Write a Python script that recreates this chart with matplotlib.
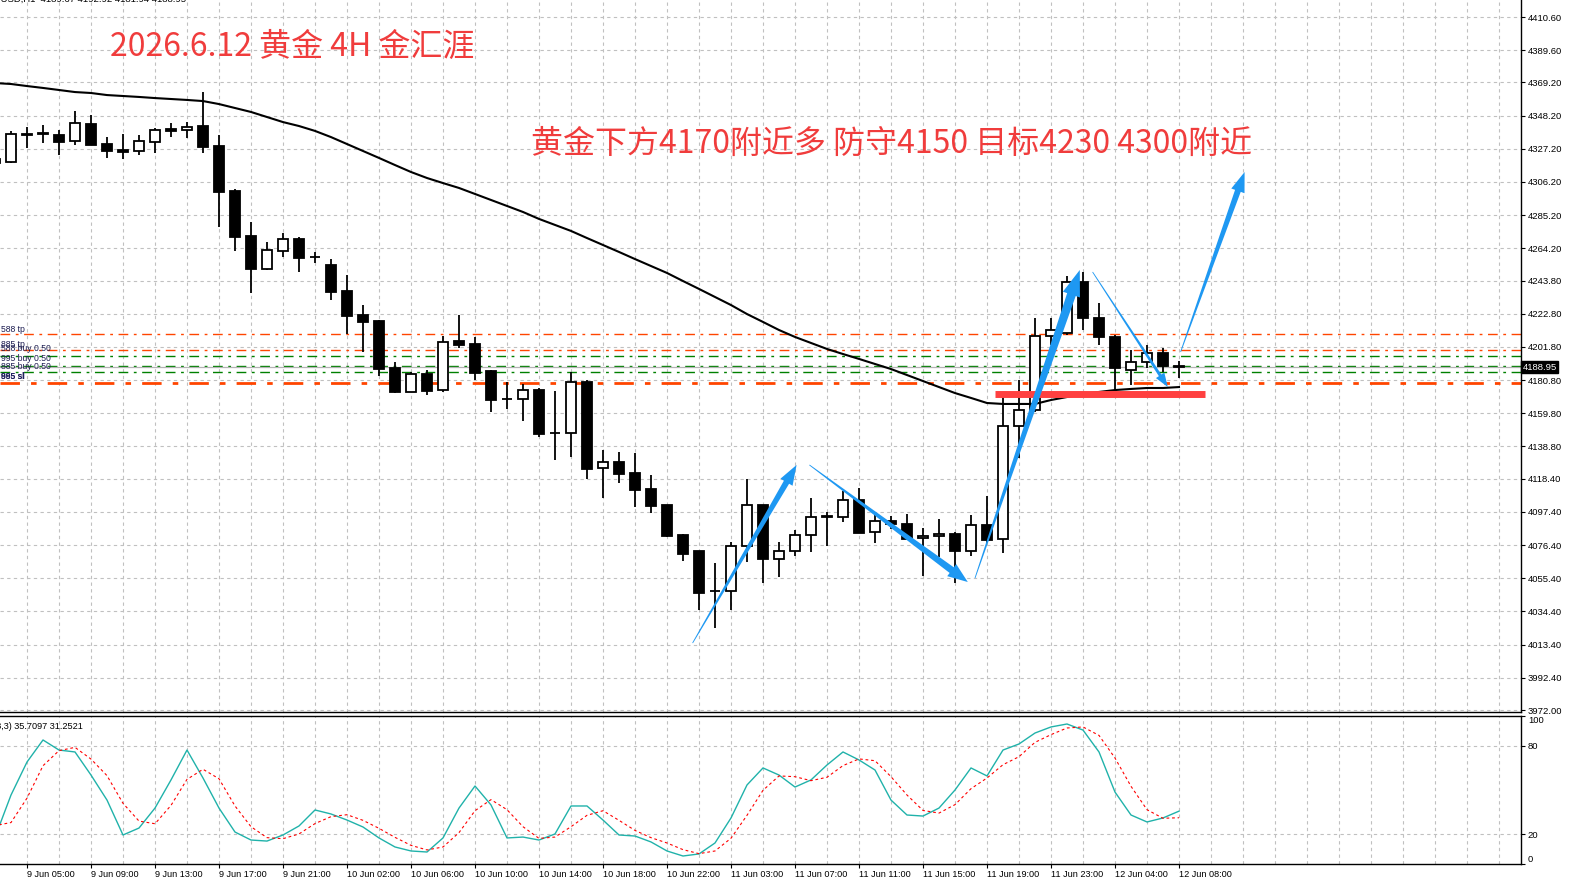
# XAUUSD H1 蜡烛图 + MA + 随机指标 (MT4 风格)
import numpy as np
import matplotlib
matplotlib.use('Agg')
import matplotlib.pyplot as plt
import matplotlib.transforms as mtransforms
from matplotlib.patches import Polygon

W, H = 1569, 877

# ---- 数据 ----
opens = [4321.0, 4318.8, 4336.6, 4336.6, 4335.9, 4332.1, 4342.9, 4330.2, 4326.4, 4325.8,
         4331.5, 4339.7, 4339.1, 4341.6, 4329.0, 4300.5, 4272.0, 4251.1, 4262.5, 4270.1,
         4258.7, 4253.6, 4237.2, 4222.0, 4218.2, 4188.5, 4173.3, 4184.7, 4174.5, 4205.5,
         4203.6, 4186.6, 4168.8, 4168.8, 4174.5, 4147.3, 4147.3, 4179.6, 4125.2, 4129.0,
         4122.0, 4111.9, 4101.7, 4082.8, 4072.6, 4047.3, 4047.3, 4075.8, 4101.7, 4067.6,
         4072.6, 4082.8, 4094.2, 4094.2, 4104.9, 4084.7, 4091.6, 4089.7, 4080.9, 4082.1,
         4083.4, 4072.6, 4089.1, 4080.2, 4151.7, 4161.9, 4208.7, 4210.6, 4242.9, 4220.1,
         4208.1, 4187.2, 4192.3, 4197.9, 4189.67]
highs = [4324.0, 4338.5, 4341.0, 4342.2, 4339.1, 4351.1, 4348.6, 4334.6, 4336.6, 4335.9,
         4340.3, 4343.5, 4344.1, 4363.1, 4335.9, 4301.7, 4280.9, 4268.2, 4273.9, 4271.4,
         4261.9, 4257.4, 4247.3, 4228.3, 4218.8, 4192.3, 4185.9, 4187.2, 4208.7, 4222.0,
         4208.1, 4187.2, 4179.6, 4178.3, 4175.8, 4173.9, 4185.9, 4180.9, 4136.6, 4135.3,
         4134.7, 4120.7, 4101.7, 4083.4, 4072.6, 4065.0, 4078.3, 4118.2, 4101.7, 4078.3,
         4085.9, 4106.2, 4097.3, 4110.6, 4112.5, 4095.4, 4094.8, 4096.1, 4087.2, 4092.9,
         4084.7, 4095.4, 4107.4, 4172.6, 4180.9, 4220.1, 4220.1, 4246.7, 4249.2, 4229.6,
         4209.3, 4199.8, 4203.0, 4201.1, 4192.92]
lows = [4316.0, 4318.2, 4327.7, 4330.9, 4323.3, 4329.6, 4329.6, 4321.4, 4320.7, 4323.3,
        4324.5, 4334.6, 4334.0, 4324.5, 4277.7, 4262.5, 4235.9, 4250.5, 4258.7, 4249.2,
        4254.9, 4231.5, 4210.0, 4198.6, 4183.4, 4172.6, 4173.3, 4171.4, 4173.3, 4201.1,
        4180.9, 4160.6, 4162.5, 4154.9, 4144.8, 4130.2, 4132.1, 4118.2, 4106.2, 4115.7,
        4100.5, 4096.7, 4081.5, 4066.3, 4035.3, 4023.9, 4035.3, 4065.7, 4052.4, 4056.2,
        4069.5, 4072.0, 4075.8, 4091.0, 4084.0, 4077.7, 4086.6, 4080.2, 4056.8, 4068.8,
        4052.4, 4069.5, 4077.7, 4071.4, 4131.5, 4160.6, 4203.0, 4209.3, 4212.5, 4203.0,
        4174.5, 4177.7, 4188.5, 4185.9, 4181.94]
closes = [4318.5, 4336.6, 4335.9, 4336.6, 4331.5, 4343.5, 4329.6, 4325.8, 4325.2, 4332.1,
          4339.1, 4338.5, 4341.0, 4328.3, 4299.8, 4271.4, 4251.1, 4263.1, 4270.1, 4258.1,
          4258.7, 4236.6, 4221.4, 4217.6, 4187.8, 4173.3, 4184.7, 4173.9, 4204.9, 4203.0,
          4185.3, 4168.2, 4168.8, 4174.5, 4146.7, 4147.3, 4179.6, 4124.5, 4129.0, 4121.4,
          4111.2, 4101.1, 4082.1, 4070.7, 4046.1, 4047.3, 4075.8, 4101.7, 4067.6, 4072.6,
          4082.8, 4094.2, 4094.2, 4104.9, 4084.0, 4091.6, 4089.7, 4080.2, 4082.1, 4083.4,
          4072.6, 4089.1, 4079.6, 4151.7, 4161.9, 4208.7, 4212.5, 4242.9, 4220.1, 4208.1,
          4188.5, 4192.3, 4197.9, 4189.7, 4188.95]
ma = [4368.8, 4368.2, 4366.9, 4365.7, 4364.4, 4363.1, 4362.5, 4361.2, 4360.6, 4360.0,
      4359.3, 4358.7, 4358.1, 4357.4, 4355.5, 4353.0, 4350.5, 4347.3, 4344.1, 4341.6,
      4338.5, 4334.6, 4330.2, 4325.8, 4321.4, 4316.9, 4312.5, 4308.7, 4305.5, 4302.4,
      4298.6, 4294.8, 4291.0, 4287.2, 4282.8, 4279.0, 4275.2, 4270.7, 4266.3, 4261.9,
      4257.4, 4253.0, 4248.6, 4243.5, 4238.5, 4233.4, 4228.3, 4222.6, 4217.6, 4212.5,
      4208.1, 4204.3, 4200.5, 4197.3, 4194.2, 4191.0, 4187.8, 4184.0, 4180.2, 4176.4,
      4172.6, 4169.5, 4166.3, 4165.7, 4165.7, 4165.7, 4168.2, 4170.1, 4172.0, 4173.3,
      4174.5, 4175.2, 4175.8, 4175.8, 4176.4]
stoch_main = [18.0, 46.6, 68.9, 83.8, 77.0, 75.7, 60.1, 43.2, 19.6, 24.3,
              37.8, 56.8, 77.0, 58.1, 37.8, 21.6, 16.2, 15.5, 19.6, 25.7,
              36.5, 33.8, 29.7, 25.0, 17.6, 11.5, 8.8, 8.1, 17.6, 37.8,
              52.7, 39.9, 17.6, 18.2, 16.2, 20.3, 39.2, 39.2, 29.7, 19.6,
              18.9, 14.9, 8.8, 5.4, 6.8, 14.2, 31.1, 53.4, 64.9, 60.1,
              52.0, 56.8, 66.9, 75.7, 70.3, 63.5, 43.2, 33.1, 32.4, 37.8,
              50.0, 64.9, 59.5, 77.0, 81.1, 88.5, 92.6, 94.6, 90.5, 75.7,
              48.6, 33.1, 28.4, 31.1, 35.71]
stoch_signal = [26.0, 28.0, 44.5, 66.4, 76.6, 78.8, 70.9, 59.7, 41.0, 29.0,
                27.2, 39.6, 57.2, 64.0, 57.6, 39.2, 25.2, 17.8, 17.1, 20.3,
                27.3, 32.0, 33.3, 29.5, 24.1, 18.0, 12.6, 9.5, 11.5, 21.2,
                36.0, 43.5, 36.7, 25.2, 17.3, 18.2, 25.2, 32.9, 36.0, 29.5,
                22.7, 17.8, 14.2, 9.7, 7.0, 8.8, 17.4, 32.9, 49.8, 59.5,
                59.0, 56.3, 58.6, 66.5, 71.0, 69.8, 59.0, 46.6, 36.2, 34.4,
                40.1, 50.9, 58.1, 67.1, 72.5, 82.2, 87.4, 91.9, 92.6, 86.9,
                71.6, 52.5, 36.7, 30.9, 31.25]

time_ticks = [2, 6, 10, 14, 18, 22, 26, 30, 34, 38, 42, 46, 50, 54, 58, 62, 66, 70, 74]
time_labels = ['9 Jun 05:00', '9 Jun 09:00', '9 Jun 13:00', '9 Jun 17:00', '9 Jun 21:00',
               '10 Jun 02:00', '10 Jun 06:00', '10 Jun 10:00', '10 Jun 14:00', '10 Jun 18:00',
               '10 Jun 22:00', '11 Jun 03:00', '11 Jun 07:00', '11 Jun 11:00', '11 Jun 15:00',
               '11 Jun 19:00', '11 Jun 23:00', '12 Jun 04:00', '12 Jun 08:00']
price_ticks = [4410.60, 4389.60, 4369.20, 4348.20, 4327.20, 4306.20, 4285.20, 4264.20,
               4243.80, 4222.80, 4201.80, 4180.80, 4159.80, 4138.80, 4118.40, 4097.40,
               4076.40, 4055.40, 4034.40, 4013.40, 3992.40, 3972.00]

# 挂单线
order_prices = [4210.0, 4199.8, 4196.0, 4189.7, 4185.9, 4179.0]
order_colors = ['#ff4500', '#ff4500', '#008000', '#008000', '#008000', '#ff4500']
order_widths = [1.0, 1.0, 1.0, 1.0, 1.0, 2.0]
order_texts = ['588 tp', '885 tp', '588 buy 0.50', '995 buy 0.50', '885 buy 0.50', '885 sl']
order_text_prices = [4213.1, 4203.6, 4200.5, 4194.2, 4189.7, 4182.8]

# 箭头 (尾部 x, 尾部价, 头部 x, 头部价)
arrows = [(43.6, 4014.4, 50.1, 4127.1),
          (50.9, 4127.1, 60.8, 4053.0),
          (61.25, 4055.5, 67.8, 4250.5),
          (68.6, 4249.2, 73.3, 4176.4),
          (74.1, 4198.6, 78.1, 4312.5)]
# 箭身宽, 箭头宽, 箭头长 (像素)
arrow_shape = [(6, 14, 20), (7, 15, 20), (9, 18, 26), (3, 10, 14), (6, 14, 20)]

bid = 4188.95
support_price = 4171.7
support_x = (62.5, 75.6)

red = '#f03c3c'
cjk = ['Noto Sans CJK SC', 'DejaVu Sans']
small = 'Liberation Sans'
grid_c = '#c0c0c0'

fig = plt.figure(figsize=(W / 100, H / 100), dpi=100)
ax = fig.add_axes([0, 165 / H, 1521 / W, 712 / H])
ax2 = fig.add_axes([0, 13 / H, 1521 / W, 148 / H], sharex=ax)

x = np.arange(len(opens))
o = np.array(opens)
c = np.array(closes)
up = c >= o
bottom = np.minimum(o, c)
height = np.maximum(np.abs(c - o), 0.3)

# 网格
for gx in range(2, 96, 2):
    ax.axvline(gx, color=grid_c, lw=0.8, ls=(0, (3, 3)), zorder=0)
    ax2.axvline(gx, color=grid_c, lw=0.8, ls=(0, (3, 3)), zorder=0)
for p in price_ticks:
    ax.axhline(p, color=grid_c, lw=0.8, ls=(0, (3, 3)), zorder=0)
for lv in (20, 80):
    ax2.axhline(lv, color=grid_c, lw=0.8, ls=(0, (3, 3)), zorder=0)

# 挂单线
for p, col, lw in zip(order_prices, order_colors, order_widths):
    ax.axhline(p, color=col, lw=lw, ls=(0, (7, 4, 2, 4)), zorder=1)
ax.axhline(bid, color='#b4b4b4', lw=0.9, zorder=1)
for t, p in zip(order_texts, order_text_prices):
    ax.text(0.4, p, t, fontsize=6.2, family=small, color='#1c1c50', va='center', ha='left', zorder=6)
ax.text(0.4, order_text_prices[-1], '995 sl', fontsize=6.2, family=small, color='#202060',
        va='center', ha='left', zorder=6, fontweight='bold')

# 蜡烛
ax.vlines(x, lows, highs, color='black', lw=1.3, zorder=3)
ax.bar(x[up], height[up], bottom=bottom[up], width=0.62, color='white',
       edgecolor='black', lw=1.3, zorder=4)
ax.bar(x[~up], height[~up], bottom=bottom[~up], width=0.62, color='black',
       edgecolor='black', lw=1.3, zorder=4)

# 均线
ax.plot(x, ma, color='black', lw=1.5, zorder=5)

# 支撑线
ax.hlines(support_price, support_x[0], support_x[1], color='#ff4040', lw=5, zorder=6)

ax.set_xlim(0.3125, 95.375)
ax.set_ylim(3970.74, 4421.36)


# 箭头: 尾部尖细, 向箭头逐渐变粗
def tapered_arrow(a, x0, y0, x1, y1, shaft, head_w, head_l, color='#1e98f2'):
    p0 = a.transData.transform((x0, y0))
    p1 = a.transData.transform((x1, y1))
    d = p1 - p0
    u = d / np.hypot(*d)
    n = np.array([-u[1], u[0]])
    base = p1 - u * head_l
    pts = [p0 + n * 0.4, base + n * shaft / 2, base + n * head_w / 2, p1,
           base - n * head_w / 2, base - n * shaft / 2, p0 - n * 0.4]
    a.add_patch(Polygon(pts, closed=True, facecolor=color, edgecolor='none',
                        transform=mtransforms.IdentityTransform(), zorder=7))


for (x0, y0, x1, y1), (sw, hw, hl) in zip(arrows, arrow_shape):
    tapered_arrow(ax, x0, y0, x1, y1, sw, hw, hl)

ax.yaxis.tick_right()
ax.set_yticks(price_ticks)
ax.set_yticklabels(['%.2f' % p for p in price_ticks], family=small, fontsize=6.8)
ax.tick_params(axis='y', direction='out', length=3, width=0.8, pad=2, colors='black')
ax.tick_params(axis='x', bottom=False, labelbottom=False)
for s in ('left', 'top'):
    ax.spines[s].set_visible(False)
ax.spines['right'].set_linewidth(1.0)
ax.spines['bottom'].set_linewidth(1.0)

# 当前价
blend = mtransforms.blended_transform_factory(ax.transAxes, ax.transData)
ax.text(1.001, bid, '%.2f' % bid, transform=blend, ha='left', va='center', color='white',
        family=small, fontsize=6.8, clip_on=False, zorder=10,
        bbox=dict(facecolor='black', edgecolor='black', pad=1.2))

# 随机指标
ax2.plot(x, stoch_main, color='#20b2aa', lw=1.0)
ax2.plot(x, stoch_signal, color='red', lw=0.8, ls=(0, (2.5, 2.5)))
ax2.set_ylim(0, 100)
ax2.yaxis.tick_right()
ax2.set_yticks([0, 20, 80, 100])
ax2.set_yticklabels(['0', '20', '80', '100'], family=small, fontsize=6.8)
labs = ax2.get_yticklabels()
labs[0].set_va('bottom')
labs[3].set_va('top')
ax2.tick_params(axis='y', direction='out', length=3, width=0.8, pad=2)
ax2.set_xticks(time_ticks)
ax2.set_xticklabels(time_labels, ha='left', family=small, fontsize=6.6)
ax2.tick_params(axis='x', direction='out', length=3, width=0.8, pad=1.5)
ax2.spines['left'].set_visible(False)
for s in ('top', 'right', 'bottom'):
    ax2.spines[s].set_linewidth(1.0)
ax2.text(0.0, -0.06, '9 Jun 2026', transform=mtransforms.blended_transform_factory(ax2.transData, ax2.transAxes),
         ha='right', va='top', family=small, fontsize=6.6, clip_on=False)
ax2.text(-38 / 1521, 0.96, 'Stoch(5,3,3) 35.7097 31.2521', transform=ax2.transAxes,
         ha='left', va='top', family=small, fontsize=6.6, clip_on=False)

# 顶部信息与标题
fig.text(-19 / W, 1 + 1 / H, 'XAUUSD,H1  4189.67 4192.92 4181.94 4188.95', family=small,
         fontsize=6.8, va='center', ha='left')
fig.text(110 / W, 1 - 47 / H, '2026.6.12 黄金 4H 金汇涯', family=cjk, fontsize=23,
         color=red, va='center', ha='left')
fig.text(531 / W, 1 - 144 / H, '黄金下方4170附近多 防守4150 目标4230 4300附近', family=cjk,
         fontsize=23, color=red, va='center', ha='left')

fig.savefig('out.png', dpi=100)
